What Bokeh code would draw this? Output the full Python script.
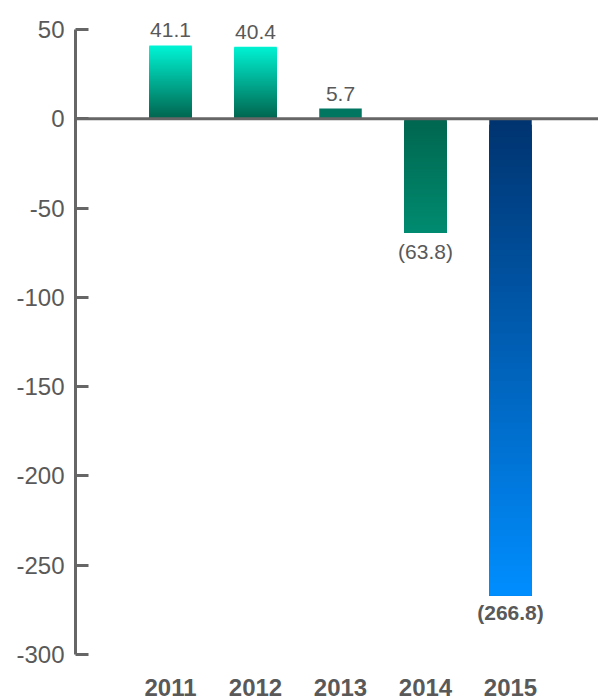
from bokeh.plotting import figure
from bokeh.models import (ColumnDataSource, Range1d, FixedTicker, Span, LabelSet)
from bokeh.core.properties import value
from bokeh.embed import file_html
from bokeh.resources import INLINE

# ---- data ----
years = ["2011", "2012", "2013", "2014", "2015"]
values = [41.1, 40.4, 5.7, -63.8, -266.8]
value_labels = ["41.1", "40.4", "5.7", "(63.8)", "(266.8)"]
label_bold = [False, False, False, False, True]
top_colors = ["#00F5D6", "#00F2D3", "#007560", "#00664F", "#00336F"]
bottom_colors = ["#00644E", "#00644E", "#007560", "#008B70", "#008EFF"]
y_ticks = [50, 0, -50, -100, -150, -200, -250, -300]
y_tick_labels = ["50", "0", "-50", "-100", "-150", "-200", "-250", "-300"]

FONT = "Liberation Sans"
GRAY = "#595959"
AXIS_GRAY = "#666666"


def hex_to_rgb(h):
    h = h.lstrip("#")
    return tuple(int(h[i:i + 2], 16) for i in (0, 2, 4))


def lerp_color(c1, c2, t):
    a, b = hex_to_rgb(c1), hex_to_rgb(c2)
    return "#%02x%02x%02x" % tuple(int(round(a[k] + (b[k] - a[k]) * t)) for k in range(3))


xs = list(range(1, len(years) + 1))

p = figure(width=598, height=700, output_backend="svg", toolbar_location=None,
           x_range=Range1d(-0.1176, 6.0353), y_range=Range1d(-300, 60.64),
           min_border_left=75, min_border_right=0, min_border_top=10,
           min_border_bottom=46)
p.frame_width = 523
p.frame_height = 644

# gradient bars: each slice runs from its own start to the bar's far end,
# later slices cover earlier ones, so no gaps show
N = 80
half = 0.25
left, right, top, bottom, colors = [], [], [], [], []
for x, v, ct, cb in zip(xs, values, top_colors, bottom_colors):
    ytop, ybot = max(0.0, v), min(0.0, v)
    h = ytop - ybot
    n = N if ct != cb else 1
    for k in range(n):
        s_top = ytop - h * k / n
        t = (k + 0.5) / n
        left.append(x - half)
        right.append(x + half)
        top.append(s_top)
        bottom.append(ybot)
        colors.append(lerp_color(ct, cb, t))

bars = ColumnDataSource(dict(left=left, right=right, top=top, bottom=bottom, color=colors))
p.quad(left="left", right="right", top="top", bottom="bottom", source=bars,
       fill_color="color", line_color=None)

# zero line
p.add_layout(Span(location=0, dimension="width", line_color=AXIS_GRAY, line_width=3))

# value labels
pos_idx = [i for i, v in enumerate(values) if v >= 0]
neg_norm = [i for i, v in enumerate(values) if v < 0 and not label_bold[i]]
neg_bold = [i for i, v in enumerate(values) if v < 0 and label_bold[i]]


def src(idx):
    return ColumnDataSource(dict(x=[xs[i] for i in idx], y=[values[i] for i in idx],
                                 t=[value_labels[i] for i in idx]))


p.add_layout(LabelSet(x="x", y="y", text="t", source=src(pos_idx), text_align="center",
                      text_baseline="bottom", y_offset=8, text_font=value(FONT),
                      text_font_size="21px", text_color=GRAY))
p.add_layout(LabelSet(x="x", y="y", text="t", source=src(neg_norm), text_align="center",
                      text_baseline="top", y_offset=-7, text_font=value(FONT),
                      text_font_size="21px", text_color=GRAY))
p.add_layout(LabelSet(x="x", y="y", text="t", source=src(neg_bold), text_align="center",
                      text_baseline="top", y_offset=-6, text_font=value(FONT),
                      text_font_size="21px", text_font_style="bold", text_color=GRAY))

# axes
p.yaxis.ticker = FixedTicker(ticks=y_ticks)
p.yaxis.major_label_overrides = {t: s for t, s in zip(y_ticks, y_tick_labels)}
p.yaxis.bounds = (min(y_ticks), max(y_ticks))
p.yaxis.axis_line_color = AXIS_GRAY
p.yaxis.axis_line_width = 3
p.yaxis.major_tick_line_color = AXIS_GRAY
p.yaxis.major_tick_line_width = 3
p.yaxis.major_tick_in = 13
p.yaxis.major_tick_out = 0
p.yaxis.minor_tick_line_color = None
p.yaxis.major_label_text_font = FONT
p.yaxis.major_label_text_font_size = "24px"
p.yaxis.major_label_text_color = GRAY
p.yaxis.major_label_standoff = 11

p.xaxis.ticker = FixedTicker(ticks=xs)
p.xaxis.major_label_overrides = {x: y for x, y in zip(xs, years)}
p.xaxis.axis_line_color = None
p.xaxis.major_tick_line_color = None
p.xaxis.minor_tick_line_color = None
p.xaxis.major_label_text_font = FONT
p.xaxis.major_label_text_font_size = "24px"
p.xaxis.major_label_text_font_style = "bold"
p.xaxis.major_label_text_color = GRAY
p.xaxis.major_label_standoff = 18

p.xgrid.visible = False
p.ygrid.visible = False
p.outline_line_color = None
p.background_fill_color = "white"
p.border_fill_color = "white"

open("out.html", "w").write(file_html(p, INLINE))
